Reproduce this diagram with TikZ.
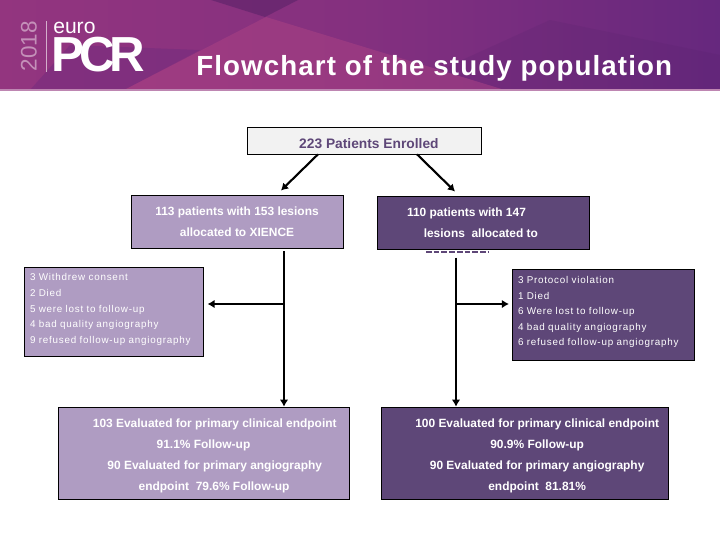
\documentclass[tikz,border=0pt]{standalone}
\usepackage{fontspec}
\setmainfont{Liberation Sans}
\newfontfamily\sidefont[LetterSpace=8]{Liberation Sans}
\newfontfamily\titlefont[LetterSpace=4]{Liberation Sans}
\usetikzlibrary{arrows.meta}

\definecolor{lightpurple}{HTML}{AF9CC2}
\definecolor{darkpurple}{HTML}{5E4778}
\definecolor{bannerleft}{HTML}{93357F}
\definecolor{bannermid}{HTML}{84307F}
\definecolor{bannerright}{HTML}{66287E}
\newcommand{\topgap}[1]{\rule{0pt}{#1}}
\newcommand{\botgap}[1]{\rule[-#1]{0pt}{0pt}}

\tikzset{
  mainbox/.style={draw=black, rectangle, inner sep=0pt, align=center, text=white,
    font=\bfseries\fontsize{8.5pt}{15pt}\selectfont},
  sidebox/.style={draw=black, rectangle, inner sep=0pt, align=left, text=white,
    font=\sidefont\fontsize{7pt}{11.1pt}\selectfont},
  arrowline/.style={-{Latex[length=5pt,width=6pt]}, line width=1.5pt}
}

\begin{document}
\begin{tikzpicture}[x=0.025cm, y=-0.025cm]
  \useasboundingbox (0,0) rectangle (720,540);

  % banner
  \shade[left color=bannerleft, right color=bannerright, middle color=bannermid] (0,0) rectangle (720,90);
  \fill[bannerright, opacity=0.35] (30,90) -- (70,45) -- (200,50) -- (124,90) -- cycle;
  \fill[bannerright!80!black, opacity=0.5] (211,0) -- (298,0) -- (265,17) -- cycle;
  \fill[magenta!40!bannerleft, opacity=0.35] (124,90) -- (266,17) -- (505,90) -- cycle;
  \fill[bannerright!85!black, opacity=0.2] (550,20) -- (720,55) -- (720,90) -- (505,90) -- (440,70) -- cycle;
  \fill[bannerleft!60!white] (0,89) rectangle (720,91);
  \fill[white!60!bannerleft] (45.5,21) rectangle (46,72);
  \node (year) [rotate=90, text=white!45!bannerleft, font=\fontsize{16pt}{17pt}\selectfont] at (29,46) {2018};
  \node (euro) [anchor=south west, inner sep=0pt, text=white, font=\fontsize{15pt}{16pt}\selectfont] at (53,34) {euro};
  \node (pcr) [anchor=north west, inner sep=0pt, text=white, text height=26pt, text depth=0pt, font=\bfseries\fontsize{35pt}{37pt}\selectfont] at (51,35) {P\kern-3pt C\kern-4pt R};
  \node (title) [anchor=west, inner sep=0pt, text=white, font=\titlefont\bfseries\fontsize{19.7pt}{22pt}\selectfont] at (196,68) {Flowchart of the study population};

  % boxes
  \node (enrolled) [mainbox, fill=black!5, text=darkpurple, minimum width=234*0.025cm, minimum height=27*0.025cm,
                   font=\bfseries\fontsize{9.8pt}{11pt}\selectfont] at (364,140.5) {\hspace*{7pt}\raisebox{-5.7pt}[0pt][0pt]{223 Patients Enrolled}};
  \node (xience) [mainbox, fill=lightpurple, minimum width=212*0.025cm, minimum height=53*0.025cm] at (237,221.5)
                 {113 patients with 153 lesions\\allocated to XIENCE};
  \node (other) [mainbox, fill=darkpurple, minimum width=212*0.025cm, minimum height=53*0.025cm] at (483,222.5)
                {\hspace*{-23.5pt}110 patients with 147\\\hspace*{-3pt}lesions\ \ allocated to};
  \node (xout) [sidebox, fill=lightpurple, minimum width=179*0.025cm, minimum height=89*0.025cm, text width=167*0.025cm] at (113.5,311.5)
               {3 Withdrew consent\\2 Died\\5 were lost to follow-up\\4 bad quality angiography\\9 refused follow-up angiography\botgap{4.3pt}};
  \node (oout) [sidebox, fill=darkpurple, minimum width=182*0.025cm, minimum height=91*0.025cm, text width=170*0.025cm] at (603,314.5)
               {3 Protocol violation\\1 Died\\6 Were lost to follow-up\\4 bad quality angiography\\6 refused follow-up angiography\botgap{4.8pt}};
  \node (xend) [mainbox, fill=lightpurple, minimum width=291*0.025cm, minimum height=92*0.025cm] at (203.5,453)
               {\topgap{10.5pt}\hspace*{16pt}103 Evaluated for primary clinical endpoint\\91.1\% Follow-up\\
                \hspace*{16pt}90 Evaluated for primary angiography\\\hspace*{15pt}endpoint\ \ 79.6\% Follow-up};
  \node (oend) [mainbox, fill=darkpurple, minimum width=287*0.025cm, minimum height=92*0.025cm] at (524.5,453)
               {\topgap{10.5pt}\hspace*{18pt}100 Evaluated for primary clinical endpoint\\\hspace*{18pt}90.9\% Follow-up\\
                \hspace*{18pt}90 Evaluated for primary angiography\\\hspace*{18pt}endpoint\ \ 81.81\%};

  % cut-off line under the right box
  \draw[darkpurple, line width=1pt, dash pattern=on 4pt off 1.5pt] ([xshift=-57*0.025cm,yshift=-2pt]other.south) -- ([xshift=5*0.025cm,yshift=-2pt]other.south);

  % connectors
  \coordinate (xsplit) at (284,304);
  \coordinate (osplit) at (456,304);
  \draw[arrowline] ([xshift=-46*0.025cm]enrolled.south) -- ([xshift=44*0.025cm,yshift=3pt]xience.north);
  \draw[arrowline] ([xshift=53*0.025cm]enrolled.south) -- ([xshift=-28*0.025cm,yshift=3pt]other.north);
  \draw[line width=1.5pt] ([yshift=-2pt]xience.south -| xsplit) -- (xsplit);
  \draw[arrowline] (xsplit) -- (xsplit |- xend.north);
  \draw[arrowline] (xsplit) -- ([xshift=3pt]xsplit -| xout.east);
  \draw[line width=1.5pt] ([yshift=-6pt]other.south -| osplit) -- (osplit);
  \draw[arrowline] (osplit) -- (osplit |- oend.north);
  \draw[arrowline] (osplit) -- ([xshift=-2pt]osplit -| oout.west);
\end{tikzpicture}
\end{document}
